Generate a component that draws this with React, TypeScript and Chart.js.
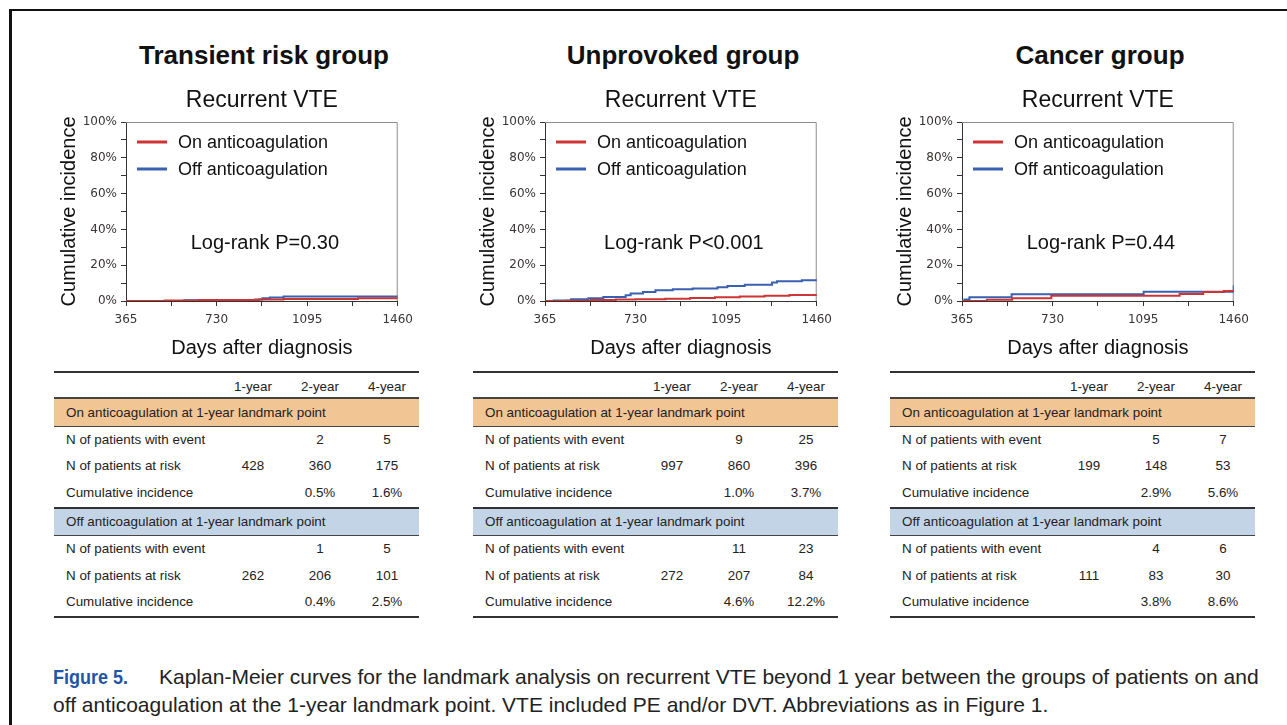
import React, { useEffect, useRef } from "react";
import { Chart, registerables } from "chart.js";

Chart.register(...registerables);

// ---------- text ----------
const panelTitles = ["Transient risk group", "Unprovoked group", "Cancer group"];
const chartTitle = "Recurrent VTE";
const yAxisTitle = "Cumulative incidence";
const xAxisTitle = "Days after diagnosis";
const seriesLabels = ["On anticoagulation", "Off anticoagulation"];
const logRankTexts = ["Log-rank P=0.30", "Log-rank P<0.001", "Log-rank P=0.44"];

// ---------- ticks ----------
const xTickValues = [365, 547.5, 730, 912.5, 1095, 1277.5, 1460];
const xTickLabels = ["365", "", "730", "", "1095", "", "1460"];
const yTickValues = [0, 10, 20, 30, 40, 50, 60, 70, 80, 90, 100];
const yTickLabels = ["0%", "", "20%", "", "40%", "", "60%", "", "80%", "", "100%"];

// ---------- curves (days after diagnosis, cumulative incidence %) ----------
const transientOnDays = [365, 520, 660, 900, 1000, 1300, 1460];
const transientOnInc = [0, 0.25, 0.5, 0.8, 1.1, 1.6, 1.6];
const transientOffDays = [365, 600, 885, 915, 945, 1000, 1460];
const transientOffInc = [0, 0.4, 0.9, 1.5, 2.0, 2.5, 2.5];

const unprovokedOnDays = [365, 450, 550, 650, 730, 850, 950, 1050, 1150, 1250, 1350, 1460];
const unprovokedOnInc = [0, 0.2, 0.5, 0.8, 1.0, 1.3, 1.7, 2.1, 2.5, 2.9, 3.3, 3.7];
const unprovokedOffDays = [365, 400, 470, 540, 600, 690, 710, 760, 810, 880, 960, 1060, 1100, 1170, 1280, 1300, 1400, 1460];
const unprovokedOffInc = [0, 0.3, 1.0, 1.6, 2.3, 3.2, 4.2, 5.0, 6.0, 6.6, 7.0, 7.7, 8.4, 9.1, 10.4, 11.0, 11.6, 12.2];

const cancerOnDays = [365, 465, 567, 725, 1242, 1337, 1420, 1460];
const cancerOnInc = [0, 0.7, 1.5, 2.9, 3.9, 5.0, 5.6, 5.6];
const cancerOffDays = [365, 375, 395, 565, 1097, 1455, 1460];
const cancerOffInc = [0, 0.9, 2.1, 3.8, 5.2, 5.2, 8.6];

// ---------- tables ----------
const tableColumns = ["1-year", "2-year", "4-year"];
const tableRowLabels = ["N of patients with event", "N of patients at risk", "Cumulative incidence"];
const onSectionLabel = "On anticoagulation at 1-year landmark point";
const offSectionLabel = "Off anticoagulation at 1-year landmark point";

const transientOnTable = [["", "2", "5"], ["428", "360", "175"], ["", "0.5%", "1.6%"]];
const transientOffTable = [["", "1", "5"], ["262", "206", "101"], ["", "0.4%", "2.5%"]];
const unprovokedOnTable = [["", "9", "25"], ["997", "860", "396"], ["", "1.0%", "3.7%"]];
const unprovokedOffTable = [["", "11", "23"], ["272", "207", "84"], ["", "4.6%", "12.2%"]];
const cancerOnTable = [["", "5", "7"], ["199", "148", "53"], ["", "2.9%", "5.6%"]];
const cancerOffTable = [["", "4", "6"], ["111", "83", "30"], ["", "3.8%", "8.6%"]];

// ---------- caption ----------
const captionLabel = "Figure 5.";
const captionLine1 = "Kaplan-Meier curves for the landmark analysis on recurrent VTE beyond 1 year between the groups of patients on and";
const captionLine2 = "off anticoagulation at the 1-year landmark point. VTE included PE and/or DVT. Abbreviations as in Figure 1.";

// ---------- style ----------
const RED = "#cf3434";
const BLUE = "#3a60b0";
const SANS = '"Liberation Sans", Arial, Helvetica, sans-serif';
const TICKFONT = '"DejaVu Sans", Verdana, sans-serif';

const PLOT_W = 276;
const Y_AXIS_W = 76;
const RIGHT_PAD = 18;
const CANVAS_W = Y_AXIS_W + PLOT_W + RIGHT_PAD;
const CANVAS_H = 285;
const CANVAS_TOP = 80;

const panels = [
  { title: panelTitles[0], plotLeft: 126, logRank: logRankTexts[0],
    on: [transientOnDays, transientOnInc], off: [transientOffDays, transientOffInc],
    tOn: transientOnTable, tOff: transientOffTable },
  { title: panelTitles[1], plotLeft: 545, logRank: logRankTexts[1],
    on: [unprovokedOnDays, unprovokedOnInc], off: [unprovokedOffDays, unprovokedOffInc],
    tOn: unprovokedOnTable, tOff: unprovokedOffTable },
  { title: panelTitles[2], plotLeft: 962, logRank: logRankTexts[2],
    on: [cancerOnDays, cancerOnInc], off: [cancerOffDays, cancerOffInc],
    tOn: cancerOnTable, tOff: cancerOffTable },
];

const kmOverlay = {
  id: "kmOverlay",
  beforeDatasetsDraw(chart: any) {
    const { ctx, chartArea } = chart;
    ctx.save();
    ctx.strokeStyle = "#8c8c8c";
    ctx.lineWidth = 1;
    ctx.beginPath();
    ctx.moveTo(chartArea.left, chartArea.top + 0.5);
    ctx.lineTo(chartArea.right - 0.5, chartArea.top + 0.5);
    ctx.lineTo(chartArea.right - 0.5, chartArea.bottom);
    ctx.stroke();
    ctx.restore();
  },
  afterDraw(chart: any, _args: any, opts: any) {
    const { ctx, chartArea } = chart;
    ctx.save();
    chart.data.datasets.forEach((ds: any, i: number) => {
      const y = chartArea.top + 20 + i * 27;
      ctx.strokeStyle = ds.borderColor;
      ctx.lineWidth = 3;
      ctx.beginPath();
      ctx.moveTo(chartArea.left + 11, y);
      ctx.lineTo(chartArea.left + 41, y);
      ctx.stroke();
      ctx.fillStyle = "#111";
      ctx.font = `18px ${SANS}`;
      ctx.textAlign = "left";
      ctx.textBaseline = "middle";
      ctx.fillText(ds.label, chartArea.left + 52, y + 1);
    });
    ctx.font = `20px ${SANS}`;
    ctx.textAlign = "center";
    ctx.textBaseline = "middle";
    ctx.fillStyle = "#111";
    ctx.fillText(opts.text, (chartArea.left + chartArea.right) / 2 + 3, chartArea.top + 121);
    ctx.restore();
  },
};

function KMChart({ panel }: { panel: any }) {
  const ref = useRef<HTMLCanvasElement | null>(null);
  useEffect(() => {
    if (!ref.current) return;
    const toPts = (arr: number[][]) => arr[0].map((d, i) => ({ x: d, y: arr[1][i] }));
    const chart = new Chart(ref.current, {
      type: "line",
      data: {
        datasets: [
          { label: seriesLabels[0], data: toPts(panel.on), borderColor: RED, backgroundColor: RED,
            borderWidth: 2, pointRadius: 0, stepped: "before" as any, fill: false },
          { label: seriesLabels[1], data: toPts(panel.off), borderColor: BLUE, backgroundColor: BLUE,
            borderWidth: 2, pointRadius: 0, stepped: "before" as any, fill: false },
        ],
      },
      options: {
        animation: false,
        responsive: false,
        maintainAspectRatio: false,
        events: [],
        layout: { padding: { left: 0, right: RIGHT_PAD, top: 0, bottom: 0 } },
        plugins: {
          legend: { display: false },
          tooltip: { enabled: false },
          title: {
            display: true,
            text: chartTitle,
            fullSize: false,
            color: "#111",
            font: { size: 23, family: SANS, weight: "normal" },
            padding: { top: 7, bottom: 7.4 },
          },
          kmOverlay: { text: panel.logRank },
        } as any,
        scales: {
          x: {
            type: "linear",
            min: 365,
            max: 1460,
            afterFit: (s: any) => { s.height = CANVAS_H - 221; },
            afterBuildTicks: (s: any) => { s.ticks = xTickValues.map((v) => ({ value: v })); },
            ticks: {
              autoSkip: false,
              maxRotation: 0,
              padding: 7,
              color: "#3a3434",
              font: { size: 12, family: TICKFONT },
              callback: (_v: any, i: number) => xTickLabels[i],
            },
            grid: { drawOnChartArea: false, drawTicks: true, tickLength: 5, tickColor: "#333", color: "#333" },
            border: { display: true, color: "#333", width: 1 },
            title: {
              display: true,
              text: xAxisTitle,
              color: "#111",
              font: { size: 20, family: SANS },
              padding: { top: 0, bottom: 5 },
            },
          },
          y: {
            type: "linear",
            min: 0,
            max: 100,
            afterFit: (s: any) => { s.width = Y_AXIS_W; },
            afterBuildTicks: (s: any) => { s.ticks = yTickValues.map((v) => ({ value: v })); },
            ticks: {
              autoSkip: false,
              padding: 4,
              color: "#3a3434",
              font: { size: 12, family: TICKFONT },
              callback: (_v: any, i: number) => yTickLabels[i],
            },
            grid: { drawOnChartArea: false, drawTicks: true, tickLength: 5, tickColor: "#333", color: "#333" },
            border: { display: true, color: "#333", width: 1 },
            title: {
              display: true,
              text: yAxisTitle,
              color: "#111",
              font: { size: 20, family: SANS },
              padding: { top: 7, bottom: 0 },
            },
          },
        },
      },
      plugins: [kmOverlay as any],
    });
    return () => chart.destroy();
  }, [panel]);
  return (
    <canvas
      ref={ref}
      width={CANVAS_W}
      height={CANVAS_H}
      style={{ position: "absolute", left: panel.plotLeft - Y_AXIS_W, top: CANVAS_TOP, width: CANVAS_W, height: CANVAS_H }}
    />
  );
}

const colCenters = [199, 266, 333];

function DataRows({ rows, h }: { rows: string[][]; h: number }) {
  return (
    <>
      {rows.map((r, ri) => (
        <div key={ri} style={{ position: "relative", height: h }}>
          <span style={{ position: "absolute", left: 12, top: 0, lineHeight: h + "px" }}>{tableRowLabels[ri]}</span>
          {r.map((c, ci) => (
            <span key={ci} style={{ position: "absolute", left: colCenters[ci] - 35, width: 70, textAlign: "center", lineHeight: h + "px" }}>{c}</span>
          ))}
        </div>
      ))}
    </>
  );
}

function SummaryTable({ left, on, off }: { left: number; on: string[][]; off: string[][] }) {
  const line = (h: number, c: string) => <div style={{ height: h, background: c }} />;
  return (
    <div style={{ position: "absolute", left, top: 371, width: 365, fontFamily: SANS, fontSize: 13.4, color: "#222" }}>
      {line(2, "#333")}
      <div style={{ position: "relative", height: 24 }}>
        {tableColumns.map((c, ci) => (
          <span key={ci} style={{ position: "absolute", left: colCenters[ci] - 35, width: 70, textAlign: "center", lineHeight: "28px" }}>{c}</span>
        ))}
      </div>
      {line(1.5, "#444")}
      <div style={{ height: 27, background: "#f2c595", paddingLeft: 12, lineHeight: "27px" }}>{onSectionLabel}</div>
      {line(1, "#444")}
      <DataRows rows={on} h={26.8} />
      {line(2, "#333")}
      <div style={{ height: 26, background: "#c4d4e7", paddingLeft: 12, lineHeight: "26px" }}>{offSectionLabel}</div>
      {line(1, "#444")}
      <DataRows rows={off} h={26.7} />
      {line(2, "#333")}
    </div>
  );
}

export default function App() {
  return (
    <div style={{ position: "fixed", left: 0, top: 0, width: 1287, height: 725, background: "#fff", overflow: "hidden" }}>
      <div style={{ position: "absolute", left: 9, top: 9, right: -10, bottom: -10, borderTop: "2px solid #111", borderLeft: "3px solid #111" }} />
      {panels.map((p, i) => (
        <div
          key={"t" + i}
          style={{ position: "absolute", left: p.plotLeft + PLOT_W / 2 - 200, top: 40, width: 400, textAlign: "center", fontFamily: SANS, fontWeight: "bold", fontSize: 26, lineHeight: "30px", color: "#111" }}
        >
          {p.title}
        </div>
      ))}
      {panels.map((p, i) => (
        <KMChart key={"c" + i} panel={p} />
      ))}
      {panels.map((p, i) => (
        <SummaryTable key={"tb" + i} left={p.plotLeft - 72} on={p.tOn} off={p.tOff} />
      ))}
      <div style={{ position: "absolute", left: 53, top: 663, fontFamily: SANS, fontSize: 20, lineHeight: "28px", fontWeight: "bold", color: "#1f56a5", whiteSpace: "nowrap", transform: "scaleX(0.9)", transformOrigin: "left top" }}>
        {captionLabel}
      </div>
      <div style={{ position: "absolute", left: 159, top: 663, fontFamily: SANS, fontSize: 21, lineHeight: "28px", color: "#222", whiteSpace: "nowrap" }}>
        {captionLine1}
      </div>
      <div style={{ position: "absolute", left: 53, top: 691, fontFamily: SANS, fontSize: 21, lineHeight: "28px", color: "#222", whiteSpace: "nowrap" }}>
        {captionLine2}
      </div>
    </div>
  );
}
